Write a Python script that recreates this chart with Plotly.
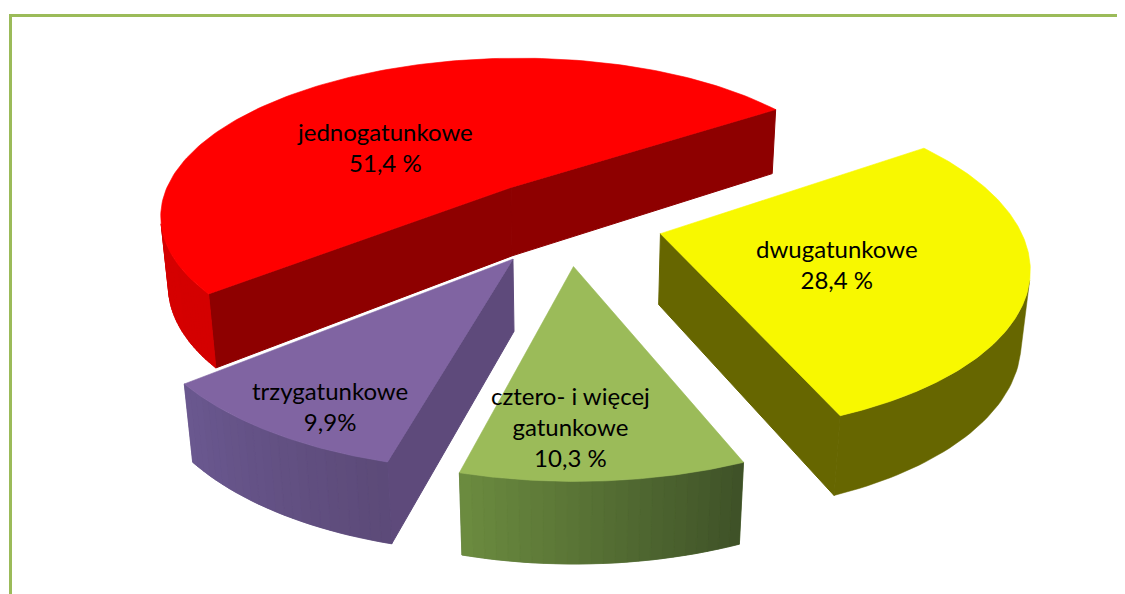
import numpy as np
import plotly.graph_objects as go

# ---------------- data ----------------
categories = ["jednogatunkowe", "dwugatunkowe", "cztero- i więcej<br>gatunkowe", "trzygatunkowe"]
shares = [51.4, 28.4, 10.3, 9.9]
value_labels = ["51,4 %", "28,4 %", "10,3 %", "9,9%"]

# ---------------- style ----------------
top_colors = ["#FF0000", "#F8F800", "#9BBB59", "#8064A2"]
wall_left = ["#DC0000", "#666600", "#6C8C3F", "#6A5890"]
wall_right = ["#D40000", "#666600", "#3E5128", "#5C4A78"]
cut_colors = ["#8E0000", "#666600", "#56702F", "#5E4A7B"]
label_r = [0.48, 0.5, 0.78, 0.84]
label_turn = [-17.5, 4.3, 4.4, -3.3]
FONT = "Lato"

# 3D view parameters (pie radius = 1)
START = 230.5          # degrees, clockwise from the back, where first slice starts
EXPLODE = 0.27
THICK = 0.225
ELEV = np.radians(26.9)
DIST = 5.3
FOCAL = 1890.0
CX, CY = 567.0, 221.0
W, H = 1125, 594
PAGE_OFFSET = 8        # the page body margin

S, C = np.sin(ELEV), np.cos(ELEV)
CAM = np.array([0.0, -DIST * C, DIST * S])


def proj(X, Y, Z):
    X = np.asarray(X, float); Y = np.asarray(Y, float); Z = np.asarray(Z, float)
    yv = Y * S + Z * C
    zv = DIST + Y * C - Z * S
    return CX + FOCAL * X / zv, CY - FOCAL * yv / zv


def hex2rgb(h):
    h = h.lstrip("#")
    return np.array([int(h[i:i + 2], 16) for i in (0, 2, 4)], float)


def mix(a, b, u):
    c = hex2rgb(a) * (1 - u) + hex2rgb(b) * u
    return "rgb(%d,%d,%d)" % tuple(np.round(c).astype(int))


fig = go.Figure()


def poly(xs, ys, color, lw=0.8):
    xs = list(xs) + [xs[0]]
    ys = list(ys) + [ys[0]]
    fig.add_trace(go.Scatter(x=xs, y=ys, mode="lines", fill="toself",
                             fillcolor=color, line=dict(color=color, width=lw),
                             hoverinfo="skip", showlegend=False))


def wall(ax, ay, a0, a1, npts=40):
    aa = np.linspace(a0, a1, npts)
    px = np.concatenate([ax + np.sin(aa), ax + np.sin(aa[::-1])])
    py = np.concatenate([ay + np.cos(aa), ay + np.cos(aa[::-1])])
    pz = np.concatenate([np.zeros(npts), -THICK * np.ones(npts)])
    return proj(px, py, pz)


total = float(sum(shares))
widths = [v / total * 360.0 for v in shares]
slices = []
acc = START
for i, w in enumerate(widths):
    t0, t1 = acc, acc + w
    acc = t1
    mid = np.radians((t0 + t1) / 2)
    apex = EXPLODE * np.array([np.sin(mid), np.cos(mid)])
    cen = apex + 0.5 * np.array([np.sin(mid), np.cos(mid)])
    depth = DIST + cen[1] * C
    slices.append(dict(i=i, t0=t0, t1=t1, mid=mid, apex=apex, depth=depth))

annotations = []
for sl in sorted(slices, key=lambda d: -d["depth"]):
    i, t0, t1, ax, ay = sl["i"], sl["t0"], sl["t1"], sl["apex"][0], sl["apex"][1]
    apex3 = np.array([ax, ay, 0.0])

    # cut faces
    for th, sign in ((t0, -1), (t1, 1)):
        r = np.radians(th)
        n = sign * np.array([np.cos(r), -np.sin(r), 0.0])
        if np.dot(CAM - apex3, n) > 0:
            px = [ax, ax + np.sin(r), ax + np.sin(r), ax]
            py = [ay, ay + np.cos(r), ay + np.cos(r), ay]
            pz = [0, 0, -THICK, -THICK]
            sx, sy = proj(px, py, pz)
            poly(sx, sy, cut_colors[i], 1.0)

    # outer wall: visible angular range
    nseg = max(8, int((t1 - t0) / 1.0))
    edges = np.linspace(t0, t1, nseg + 1)
    vis = []
    for j in range(nseg):
        a0, a1 = np.radians(edges[j]), np.radians(edges[j + 1])
        am = 0.5 * (a0 + a1)
        P = np.array([ax + np.sin(am), ay + np.cos(am), 0.0])
        n = np.array([np.sin(am), np.cos(am), 0.0])
        if np.dot(CAM - P, n) > 0:
            vis.append(j)
    if vis:
        lo, hi = np.radians(edges[vis[0]]), np.radians(edges[vis[-1] + 1])
        sx, sy = wall(ax, ay, lo, hi)
        poly(sx, sy, mix(wall_left[i], wall_right[i], 0.5), 0.5)
        if wall_left[i] != wall_right[i]:
            nb = 24
            bands = np.linspace(lo, hi, nb + 1)
            for k in range(nb):
                b0, b1 = bands[k], bands[k + 1]
                u = (np.radians(t1) - 0.5 * (b0 + b1)) / np.radians(t1 - t0)
                sx, sy = wall(ax, ay, b0, b1, 4)
                poly(sx, sy, mix(wall_left[i], wall_right[i], float(np.clip(u, 0, 1))), 0.6)

    # top face
    aa = np.radians(np.linspace(t0, t1, 160))
    px = np.concatenate([[ax], ax + np.sin(aa)])
    py = np.concatenate([[ay], ay + np.cos(aa)])
    sx, sy = proj(px, py, np.zeros(len(px)))
    poly(sx, sy, top_colors[i], 0.6)

    # label
    la = sl["mid"] + np.radians(label_turn[i])
    lx, ly = proj(ax + label_r[i] * np.sin(la), ay + label_r[i] * np.cos(la), 0.0)
    annotations.append(dict(x=float(lx), y=float(ly), xref="x", yref="y",
                            text=categories[i] + "<br>" + value_labels[i],
                            showarrow=False, align="center",
                            font=dict(family=FONT, size=24, color="#000000")))

frame = "#9BBB59"
shapes = [
    dict(type="line", xref="x", yref="y", x0=9, x1=W + 20, y0=15.5, y1=15.5,
         line=dict(color=frame, width=3)),
    dict(type="line", xref="x", yref="y", x0=10.5, x1=10.5, y0=14, y1=H + 20,
         line=dict(color=frame, width=3)),
]

fig.update_layout(
    width=W, height=H,
    margin=dict(l=0, r=0, t=0, b=0),
    paper_bgcolor="white", plot_bgcolor="white",
    xaxis=dict(range=[PAGE_OFFSET, W + PAGE_OFFSET], visible=False, fixedrange=True),
    yaxis=dict(range=[H + PAGE_OFFSET, PAGE_OFFSET], visible=False, fixedrange=True),
    annotations=annotations, shapes=shapes,
    showlegend=False,
)

fig.write_html("out.html")
